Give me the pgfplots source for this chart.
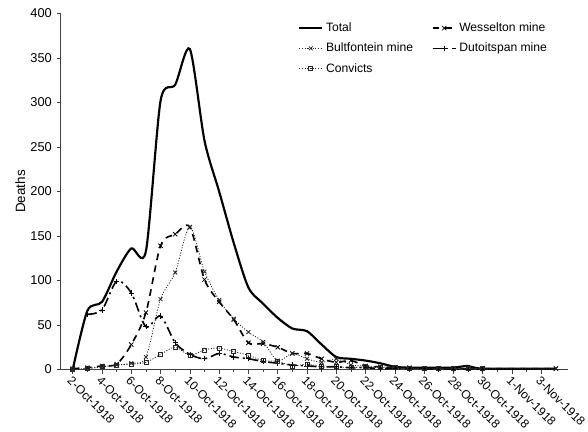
\documentclass[border=0pt]{standalone}
\usepackage{fontspec}
\setmainfont{Liberation Sans}
\usepackage{pgfplots}
\usepackage{pgfplotstable}
\pgfplotsset{compat=1.18}

% day 0 = 2-Oct-1918
\pgfplotstableread{
d  total wess bult dut conv
0  0     1    0    nan 0
1  66    2    1    62  1
2  76    4    3    67  3
3  110   6    5    99  5
4  136   28   7    86  6
5  133   64   14   48  8
6  302   139  79   60  17
7  320   152  109  30  25
8  360   160  160  17  16
9  257   101  110  12  22
10 200   76   78   18  24
11 142   56   57   14  20
12 92    30   42   12  16
13 74    29   31   9   10
14 58    25   10   7   9
15 46    18   18   5   4
16 43    18   12   4   6
17 28    12   8    3   3
18 14    8    12   3   3
19 12    10   5    2   2
20 10    4    4    2   3
21 7     3    3    1   2
22 3     2    2    1   2
23 2     2    2    1   1
24 2     1    1    1   1
25 2     1    1    0   1
26 2     1    1    0   1
27 4     1    1    0   1
28 1     1    1    0   1
33 1     1    1    nan nan
}\deaths

\begin{document}
\begin{tikzpicture}
\begin{axis}[
  scale only axis,
  width=376pt, height=264pt,
  xmin=-0.83, xmax=33.8,
  ymin=0, ymax=400,
  axis x line*=bottom, axis y line*=left,
  axis line style={black!75, line width=0.6pt},
  ytick={0,50,...,400},
  xtick={0,2,...,32},
  xticklabels={2-Oct-1918,4-Oct-1918,6-Oct-1918,8-Oct-1918,10-Oct-1918,12-Oct-1918,14-Oct-1918,16-Oct-1918,18-Oct-1918,20-Oct-1918,22-Oct-1918,24-Oct-1918,26-Oct-1918,28-Oct-1918,30-Oct-1918,1-Nov-1918,3-Nov-1918},
  minor x tick num=1,
  tick align=outside,
  tick style={black!75, line width=0.5pt},
  major tick length=3pt, minor tick length=2pt,
  /pgf/number format/assume math mode=true,
  x tick label style={rotate=-45, anchor=north west, inner sep=1pt, font=\fontsize{9}{11}\selectfont},
  y tick label style={font=\fontsize{9.5}{11}\selectfont},
  ylabel={Deaths},
  ylabel shift=-3pt,
  ylabel style={font=\fontsize{10}{12}\selectfont},
  legend columns=2,
  legend cell align=left,
  legend style={at={(0.46,0.99)}, anchor=north west, draw=none, fill=none,
    font=\fontsize{9}{10}\selectfont, row sep=3pt,
    /tikz/every even column/.append style={column sep=12pt}},
]
\addplot[black, line width=1.6pt, smooth, tension=0.45, no markers] table[x=d, y=total] {\deaths};
\addlegendentry{Total}
\addplot[black, line width=1.2pt, dash pattern=on 5pt off 4pt, smooth,
  mark=x, mark size=2.2pt, mark options={solid, line width=0.6pt}] table[x=d, y=wess] {\deaths};
\addlegendentry{Wesselton mine}
\addplot[black!85, line width=0.6pt, dash pattern=on 0.8pt off 1.2pt, smooth,
  mark=x, mark size=2pt, mark options={solid, line width=0.6pt}] table[x=d, y=bult] {\deaths};
\addlegendentry{Bultfontein mine}
\addplot[black, line width=1.2pt, dash pattern=on 7pt off 3pt on 1.5pt off 3pt, smooth,
  mark=+, mark size=2pt, mark options={solid, line width=0.5pt}] table[x=d, y=dut] {\deaths};
\addlegendentry{Dutoitspan mine}
\addplot[black!85, line width=0.6pt, dash pattern=on 0.8pt off 1.2pt, smooth,
  mark=square, mark size=1.5pt, mark options={solid, line width=0.5pt, fill=white}] table[x=d, y=conv] {\deaths};
\addlegendentry{Convicts}
\end{axis}
% blank margins on the left and at the top, as in the reference
\path (current axis.outer west) ++(-8pt,0);
\path (current axis.north) ++(0,10pt);
\end{tikzpicture}
\end{document}
